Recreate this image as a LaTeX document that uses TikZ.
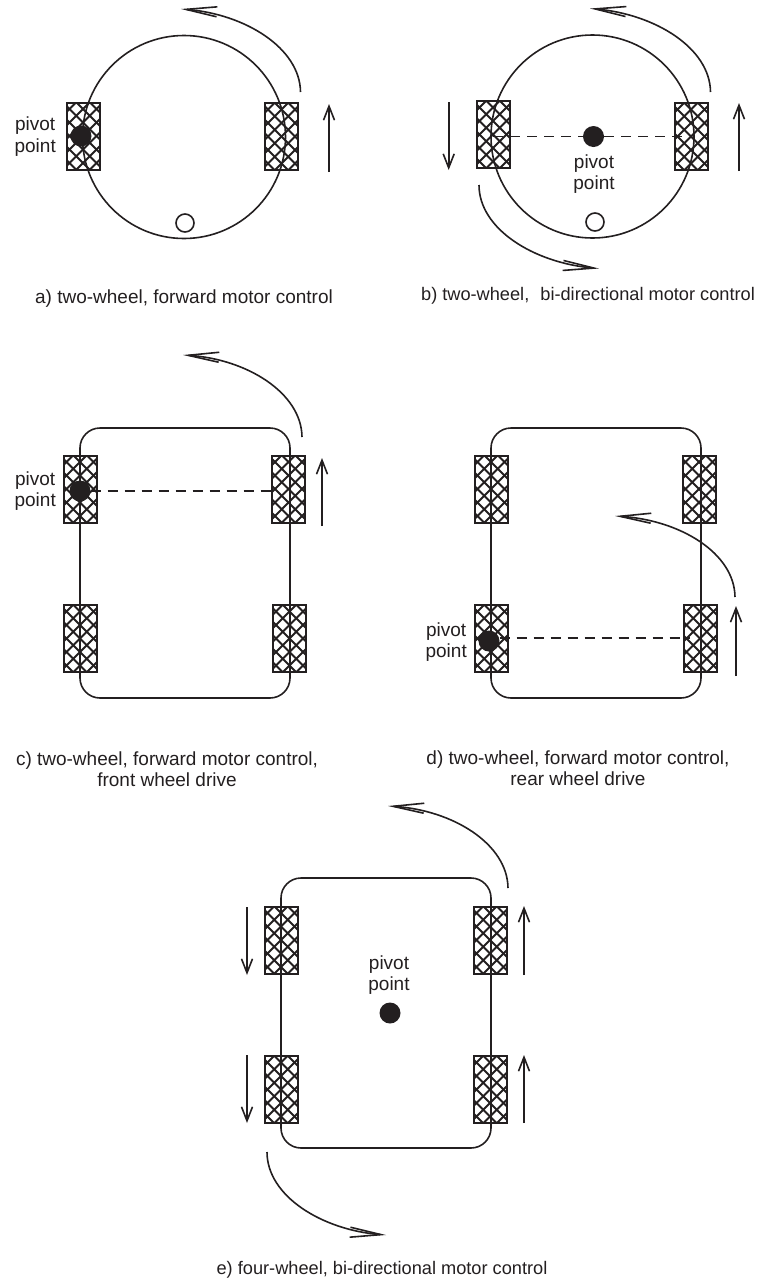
\documentclass[tikz,border=0pt]{standalone}
\usepackage{fontspec}
\setmainfont{Liberation Sans}
\usetikzlibrary{arrows.meta}
\definecolor{ink}{HTML}{231F20}
\tikzset{
  x=1pt,y=-1pt,
  conn/.style={draw=ink,line width=1.6pt},
  wheelbox/.style={draw=ink,fill=white,line width=2pt,inner sep=0pt,minimum width=33pt,minimum height=67pt,
    path picture={
      \foreach \k in {-7,...,7}{
        \draw[ink,line width=1.8pt] ([shift={(\k*13.5-60,-60)}]path picture bounding box.center) -- ([shift={(\k*13.5+60,60)}]path picture bounding box.center);
        \draw[ink,line width=1.8pt] ([shift={(\k*13.5+60,-60)}]path picture bounding box.center) -- ([shift={(\k*13.5-60,60)}]path picture bounding box.center);
      }
    }},
  pivotdot/.style={circle,fill=ink,draw=none,minimum size=21pt,inner sep=0pt},
  caster/.style={circle,draw=ink,fill=white,line width=1.6pt,minimum size=18pt,inner sep=0pt},
  body/.style={draw=ink,line width=1.6pt,rounded corners=20pt,inner sep=0pt,minimum width=210pt,minimum height=270pt},
  disc/.style={circle,draw=ink,line width=1.6pt,inner sep=0pt,minimum size=203pt},
  lbl/.style={text=ink,font=\fontsize{19}{21.3}\selectfont,align=center,inner sep=0pt},
  lblnarrow/.style={text=ink,font=\fontsize{18.2}{21.3}\selectfont,align=center,inner sep=0pt},
  bigarrow/.style={conn,-{Straight Barb[length=31pt,width=10pt,line width=1.6pt]}},
  smallarrow/.style={conn,-{Straight Barb[length=14pt,width=11pt,line width=1.6pt]}},
  pivotline/.style={conn,dash pattern=on 10pt off 7pt},
}
\begin{document}
\begin{tikzpicture}
\useasboundingbox (0,0) rectangle (775,1286);
% a
\node[wheelbox] (aL) at (83,136) {};
\node[wheelbox] (aR) at (281.5,136.5) {};
\node[disc] (aB) at (184,137) {};
\node[caster] (aC) at (185,223) {};
\node[pivotdot] (aP) at (81,136) {};
\node[lbl,anchor=east] (aT) at (56,136.5) {pivot\\point};
\coordinate (aAs) at (329,172); \coordinate (aAe) at (329,104);
\draw[smallarrow] (aAs) -- (aAe);
\coordinate (aCs) at (300.5,92); \coordinate (aCe) at (181,9);
\draw[bigarrow] (aCs) .. controls (300,48) and (245,14) .. (aCe);
\node[lbl] (aCap) at (184,298.5) {a) two-wheel, forward motor control};
% b
\node[wheelbox] (bL) at (493,134.5) {};
\node[wheelbox] (bR) at (691,136.5) {};
\node[disc] (bB) at (592.5,136.5) {};
\node[caster] (bC) at (595,222) {};
\node[pivotdot] (bP) at (593.5,136.5) {};
\coordinate (bDl) at (493,136.5); \coordinate (bDr) at (684,136.5);
\draw[pivotline] (bDl) -- (bP);
\draw[pivotline] (bP) -- (bDr);
\node[lbl] (bT) at (594,174) {pivot\\point};
\coordinate (bAs) at (739,171); \coordinate (bAe) at (739,103);
\draw[smallarrow] (bAs) -- (bAe);
\coordinate (bA2s) at (448.7,102); \coordinate (bA2e) at (448.7,170);
\draw[smallarrow] (bA2s) -- (bA2e);
\coordinate (bCs) at (710.5,92); \coordinate (bCe) at (590,8.5);
\draw[bigarrow] (bCs) .. controls (710,48) and (655,14) .. (bCe);
\coordinate (bC2s) at (479,185); \coordinate (bC2e) at (599,268.5);
\draw[bigarrow] (bC2s) .. controls (479,229) and (534,263) .. (bC2e);
\node[lblnarrow] (bCap) at (588,295.5) {b) two-wheel,\hspace{0.33em} bi-directional motor control};
% c
\node[wheelbox] (cTL) at (80,489) {};
\node[wheelbox] (cTR) at (288.5,489) {};
\node[wheelbox] (cBL) at (80,638.5) {};
\node[wheelbox] (cBR) at (289.5,638.5) {};
\node[body] (cB) at (185,563) {};
\node[pivotdot] (cP) at (80,491) {};
\node[lbl,anchor=east] (cT) at (56,491) {pivot\\point};
\coordinate (cDr) at (275,491);
\draw[pivotline] (cP) -- (cDr);
\coordinate (cAs) at (322,526); \coordinate (cAe) at (322,458);
\draw[smallarrow] (cAs) -- (cAe);
\coordinate (cCs) at (302,437); \coordinate (cCe) at (183,355);
\draw[bigarrow] (cCs) .. controls (301.5,393) and (247,359) .. (cCe);
\node[lbl] (cCap) at (167,769.5) {c) two-wheel, forward motor control,\\front wheel drive};
% d
\node[wheelbox] (dTL) at (491,489) {};
\node[wheelbox] (dTR) at (699,489) {};
\node[wheelbox] (dBL) at (491,638.5) {};
\node[wheelbox] (dBR) at (700,638.5) {};
\node[body] (dB) at (596,563) {};
\node[pivotdot] (dP) at (489,641) {};
\node[lbl,anchor=east] (dT) at (467,642) {pivot\\point};
\coordinate (dDr) at (690,638);
\draw[pivotline] (dP.east |- dDr) -- (dDr);
\coordinate (dAs) at (736,676); \coordinate (dAe) at (736,606);
\draw[smallarrow] (dAs) -- (dAe);
\coordinate (dCs) at (735,597); \coordinate (dCe) at (615,516);
\draw[bigarrow] (dCs) .. controls (734.5,553) and (680,520) .. (dCe);
\node[lbl] (dCap) at (578,768) {d) two-wheel, forward motor control,\\rear wheel drive};
% e
\node[wheelbox] (eTL) at (281,940) {};
\node[wheelbox] (eTR) at (490,940) {};
\node[wheelbox] (eBL) at (281,1089.5) {};
\node[wheelbox] (eBR) at (490,1089.5) {};
\node[body] (eB) at (386,1013) {};
\node[pivotdot] (eP) at (390,1013) {};
\node[lbl] (eT) at (389,975) {pivot\\point};
\coordinate (eA1s) at (247,907); \coordinate (eA1e) at (247,975);
\draw[smallarrow] (eA1s) -- (eA1e);
\coordinate (eA2s) at (247,1055); \coordinate (eA2e) at (247,1123);
\draw[smallarrow] (eA2s) -- (eA2e);
\coordinate (eA3s) at (524,975); \coordinate (eA3e) at (524,906);
\draw[smallarrow] (eA3s) -- (eA3e);
\coordinate (eA4s) at (524,1123); \coordinate (eA4e) at (524,1055);
\draw[smallarrow] (eA4s) -- (eA4e);
\coordinate (eCs) at (508,888); \coordinate (eCe) at (388,806);
\draw[bigarrow] (eCs) .. controls (507.5,844) and (453,810) .. (eCe);
\coordinate (eC2s) at (267,1152); \coordinate (eC2e) at (386,1235);
\draw[bigarrow] (eC2s) .. controls (267,1196) and (322,1230) .. (eC2e);
\node[lblnarrow] (eCap) at (382,1270) {e) four-wheel, bi-directional motor control};
\end{tikzpicture}
\end{document}
